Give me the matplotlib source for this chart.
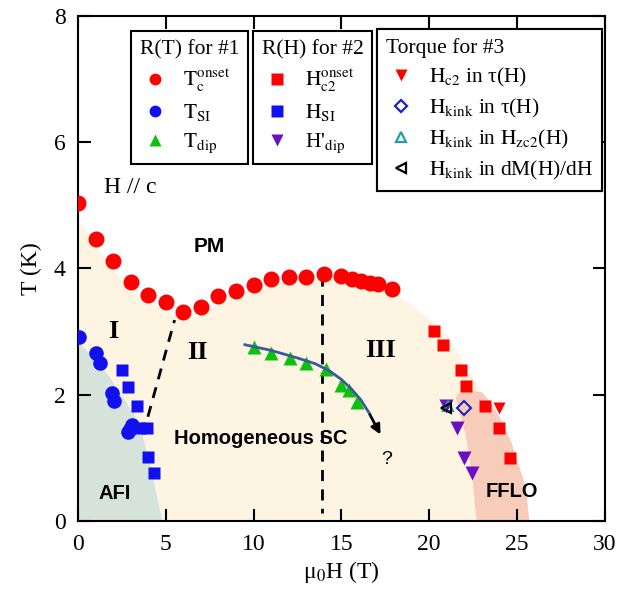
import matplotlib.pyplot as plt
from matplotlib.lines import Line2D

plt.rcParams['font.family'] = ['Liberation Serif', 'DejaVu Serif']
plt.rcParams['mathtext.fontset'] = 'stix'

# --- R(T) for #1 ---
tc_H = [0, 1, 2, 3, 4, 5, 6, 7, 8, 9, 10, 11, 12, 13, 14, 15, 15.6, 16.1, 16.6, 17.1, 17.9]
tc_T = [5.03, 4.46, 4.11, 3.78, 3.57, 3.46, 3.30, 3.38, 3.56, 3.64, 3.74, 3.83, 3.86, 3.86, 3.91,
        3.88, 3.83, 3.80, 3.77, 3.75, 3.67]
tsi_H = [0.05, 1.0, 1.25, 1.93, 2.05, 2.85, 2.95, 3.07]
tsi_T = [2.91, 2.66, 2.50, 2.03, 1.90, 1.41, 1.46, 1.52]
tdip_H = [10.0, 11.0, 12.05, 13.0, 14.1, 15.0, 15.45, 15.9]
tdip_T = [2.75, 2.66, 2.58, 2.50, 2.40, 2.15, 2.07, 1.88]

# --- R(H) for #2 ---
hc2_H = [20.3, 20.8, 21.8, 22.1, 23.2, 24.0, 24.6]
hc2_T = [3.00, 2.78, 2.39, 2.14, 1.82, 1.47, 0.99]
hsi_H = [2.5, 2.85, 3.35, 3.55, 3.95, 4.0, 4.3]
hsi_T = [2.39, 2.12, 1.82, 1.47, 1.47, 1.01, 0.76]
hdip_H = [20.95, 21.6, 22.0, 22.45]
hdip_T = [1.82, 1.47, 1.00, 0.76]

# --- Torque for #3 ---
tq_hc2_H, tq_hc2_T = [24.0], [1.79]
tq_kink_H, tq_kink_T = [22.0], [1.79]
tq_zc2_H, tq_zc2_T = [21.05], [1.82]
tq_dm_H, tq_dm_T = [20.95], [1.79]

# guide line through T_dip
guide_H = [9.5, 11.0, 12.5, 13.5, 14.3, 15.0, 15.6, 16.1, 16.6]
guide_T = [2.79, 2.70, 2.58, 2.49, 2.38, 2.24, 2.08, 1.92, 1.70]

# phase regions
sc_H = [0, 0, 1, 2, 3, 4, 5, 6, 7, 8, 9, 10, 12, 14, 16, 17.9, 19.0, 20.0, 21.0, 22.2, 23.3,
        24.2, 24.9, 25.4, 25.7]
sc_T = [0, 4.8, 4.35, 3.98, 3.65, 3.45, 3.33, 3.18, 3.25, 3.45, 3.55, 3.65, 3.8, 3.86, 3.8,
        3.62, 3.42, 3.2, 2.95, 2.4, 1.9, 1.4, 0.95, 0.5, 0]
fflo_H = [22.7, 22.45, 22.1, 21.5, 21.7, 22.3, 23.0, 23.4, 24.1, 24.7, 25.5, 25.7]
fflo_T = [0, 0.70, 1.33, 1.95, 2.03, 2.06, 2.04, 1.91, 1.6, 1.23, 0.54, 0]
afi_H = [0, 0, 1.8, 3.5, 4.1, 4.8]
afi_T = [0, 2.85, 2.28, 1.55, 0.9, 0]

fig = plt.figure(figsize=(6.22, 5.97), dpi=100)
ax = fig.add_axes([0.1254, 0.1273, 0.847, 0.8467])

ax.fill(sc_H, sc_T, color='#fdf5e2', lw=0, zorder=0)
ax.fill(fflo_H, fflo_T, color='#f8ccbb', lw=0, zorder=0.5)
ax.fill(afi_H, afi_T, color='#d6e3da', lw=0, zorder=0.6)

ax.plot([13.9, 13.9], [3.9, 0.13], color='black', lw=2, dashes=(4, 3), zorder=1)
ax.plot([3.98, 5.5], [1.65, 3.18], color='black', lw=2, dashes=(4, 3), zorder=1)

ax.plot(tc_H, tc_T, 'o', color='red', ms=11.5, mec='none', zorder=3)
ax.plot(tsi_H, tsi_T, 'o', color='#1010f0', ms=10.5, mec='none', zorder=3)
ax.plot(hsi_H, hsi_T, 's', color='#1010f0', ms=9, mec='none', zorder=3)
ax.plot(tdip_H, tdip_T, '^', color='#10c010', ms=10.5, mec='none', zorder=3)
ax.plot(guide_H, guide_T, color='#3a5a9c', lw=2, zorder=4)
ax.annotate('', xy=(17.3, 1.33), xytext=(16.55, 1.72),
            arrowprops=dict(arrowstyle='-|>', color='black', lw=2, mutation_scale=14), zorder=4)
ax.plot(hc2_H, hc2_T, 's', color='red', ms=9, mec='none', zorder=3)
ax.plot(hdip_H, hdip_T, 'v', color='#6a10c0', ms=10.5, mec='none', zorder=3)
ax.plot(tq_hc2_H, tq_hc2_T, 'v', color='red', ms=8, mec='none', zorder=4)
ax.plot(tq_kink_H, tq_kink_T, 'D', mfc='none', mec='#2020c0', mew=1.5, ms=7, zorder=4)
ax.plot(tq_zc2_H, tq_zc2_T, '^', mfc='none', mec='#20a0a0', mew=1.5, ms=7, zorder=4)
ax.plot(tq_dm_H, tq_dm_T, '<', mfc='none', mec='black', mew=1.5, ms=7, zorder=4)

sans = ['Liberation Sans', 'DejaVu Sans']
ax.text(1.5, 5.28, 'H // c', fontsize=17, va='center', ha='left')
ax.text(7.45, 4.35, 'PM', fontsize=15, fontweight='bold', family=sans, ha='center', va='center')
ax.text(2.0, 3.0, 'I', fontsize=19, fontweight='bold', ha='center', va='center')
ax.text(6.8, 2.67, 'II', fontsize=19, fontweight='bold', ha='center', va='center')
ax.text(17.2, 2.7, 'III', fontsize=19, fontweight='bold', ha='center', va='center')
ax.text(10.4, 1.30, 'Homogeneous SC', fontsize=14.5, fontweight='bold', family=sans,
        ha='center', va='center')
ax.text(2.1, 0.44, 'AFI', fontsize=14.5, fontweight='bold', family=sans, ha='center', va='center')
ax.text(24.7, 0.46, 'FFLO', fontsize=14.5, fontweight='bold', family=sans, ha='center', va='center')
ax.text(17.6, 0.97, '?', fontsize=14, family=sans, ha='center', va='center')

ax.set_xlim(0, 30)
ax.set_ylim(0, 8)
ax.set_xticks(range(0, 31, 5))
ax.set_yticks(range(0, 9, 2))
ax.tick_params(direction='in', top=True, right=True, length=9, width=1.5, labelsize=17, pad=9)
for s in ax.spines.values():
    s.set_linewidth(1.5)
ax.set_xlabel('μ$_0$H (T)', fontsize=17, labelpad=3)
ax.set_ylabel('T (K)', fontsize=17, labelpad=8)


def add_box(handles, labels, title, x, y):
    leg = ax.legend(handles, labels, title=title, loc='upper left', bbox_to_anchor=(x, y),
                    bbox_transform=fig.transFigure, fancybox=False, edgecolor='black',
                    framealpha=1, fontsize=15.5, title_fontsize=15.5, alignment='left',
                    handlelength=1.4, handletextpad=0.6, borderpad=0.4, labelspacing=0.38,
                    borderaxespad=0)
    leg.get_frame().set_linewidth(1.5)
    leg.set_zorder(10)
    ax.add_artist(leg)


def mk(m, c, filled=True, ms=8.5):
    if filled:
        return Line2D([], [], marker=m, ls='none', color=c, mec='none', ms=ms)
    return Line2D([], [], marker=m, ls='none', mfc='none', mec=c, mew=1.6, ms=ms - 1.5)


add_box([mk('o', 'red'), mk('o', '#1010f0'), mk('^', '#10c010')],
        [r'$\mathrm{T_c^{onset}}$', r'$\mathrm{T_{SI}}$', r'$\mathrm{T_{dip}}$'],
        'R(T) for #1', 131 / 622, 1 - 31 / 597)
add_box([mk('s', 'red'), mk('s', '#1010f0'), mk('v', '#6a10c0')],
        [r'$\mathrm{H_{c2}^{onset}}$', r'$\mathrm{H_{SI}}$', "H'$_\\mathrm{dip}$"],
        'R(H) for #2', 253 / 622, 1 - 31 / 597)
add_box([mk('v', 'red'), mk('D', '#2020c0', False, 7.5), mk('^', '#20a0a0', False),
         mk('<', 'black', False)],
        [r'$\mathrm{H_{c2}}$ in τ(H)', r'$\mathrm{H_{kink}}$ in τ(H)',
         r'$\mathrm{H_{kink}}$ in $\mathrm{H_{zc2}}$(H)', r'$\mathrm{H_{kink}}$ in dM(H)/dH'],
        'Torque for #3', 377 / 622, 1 - 29 / 597)

fig.savefig('out.png', dpi=100)
